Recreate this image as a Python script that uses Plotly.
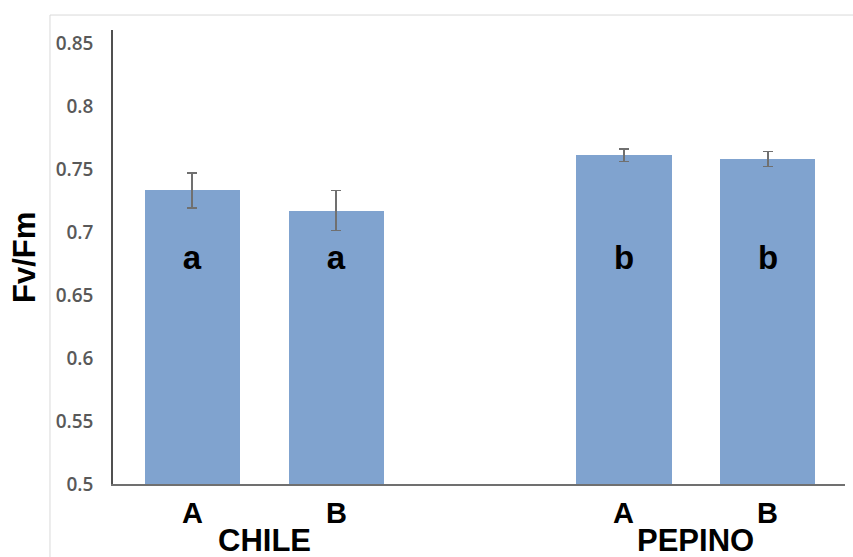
import plotly.graph_objects as go

groups = ["CHILE", "CHILE", "PEPINO", "PEPINO"]
treatments = ["A", "B", "A", "B"]
positions = [0, 1, 3, 4]
values = [0.733, 0.717, 0.761, 0.758]
errors = [0.014, 0.016, 0.005, 0.006]
letters = ["a", "a", "b", "b"]
letter_y = 0.677
group_names = ["CHILE", "PEPINO"]
group_pos = [0.5, 3.5]
yticks = [0.5, 0.55, 0.6, 0.65, 0.7, 0.75, 0.8, 0.85]

fig = go.Figure()
fig.add_trace(go.Bar(
    x=positions, y=values, width=0.66,
    marker=dict(color="#80a3cf", line=dict(width=0)),
    error_y=dict(type="data", array=errors, visible=True, color="#707070",
                 thickness=1.5, width=5),
    showlegend=False,
))
fig.add_trace(go.Scatter(
    x=positions, y=[letter_y]*4, mode="text", text=letters,
    textfont=dict(family="Arial", size=33, color="black"),
    texttemplate="<b>%{text}</b>", showlegend=False, hoverinfo="skip",
))

for p, t in zip(positions, treatments):
    fig.add_annotation(x=p, y=0, xref="x", yref="paper", text=f"<b>{t}</b>",
                       showarrow=False, yanchor="middle", yshift=-29,
                       font=dict(family="Arial", size=29, color="black"))
for p, g in zip(group_pos, group_names):
    fig.add_annotation(x=p, y=0, xref="x", yref="paper", text=f"<b>{g}</b>",
                       showarrow=False, yanchor="middle", yshift=-56,
                       font=dict(family="Arial", size=31, color="black"))

fig.add_annotation(x=-0.1216, y=0.5, xref="paper", yref="paper", text="<b>Fv/Fm</b>",
                   textangle=-90, showarrow=False, xanchor="center", yanchor="middle",
                   font=dict(family="Arial", size=31, color="black"))

fig.add_shape(type="rect", xref="paper", yref="paper",
              x0=-0.0861, x1=1.02, y0=-0.3, y1=1.033,
              line=dict(color="#d9d9d9", width=1), layer="below")

fig.update_layout(
    width=853, height=557,
    margin=dict(l=113, r=8, t=30, b=73),
    paper_bgcolor="white", plot_bgcolor="white",
    bargap=0,
    xaxis=dict(range=[-0.549, 4.535], showticklabels=False, showgrid=False,
               zeroline=False, showline=True, linecolor="#707070", linewidth=1.5,
               ticks=""),
    yaxis=dict(range=[0.5, 0.8603], tickvals=yticks,
               ticktext=[f"{v:g}" for v in yticks],
               showgrid=False, zeroline=False, showline=True,
               linecolor="#505050", linewidth=1.5, ticks="",
               tickfont=dict(family="Open Sans", size=19, color="#595959", weight=600),
               ticklabelstandoff=14),
)
fig.write_html("out.html")
